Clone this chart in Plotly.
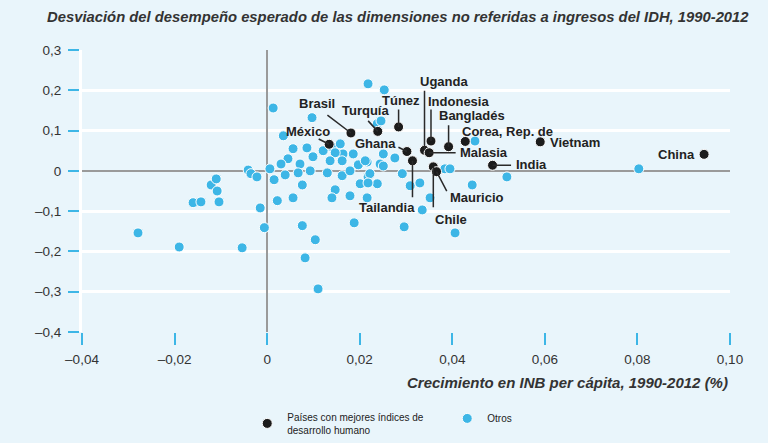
import plotly.graph_objects as go

# ---------------- data ----------------
# Highlighted countries (best HDI performers)
top_names = ["México", "Brasil", "Turquía", "Túnez", "Ghana", "Tailandia", "Uganda",
             "Indonesia", "Malasia", "Bangladés", "Corea, Rep. de", "Vietnam", "India",
             "Chile", "Mauricio", "China"]
top_x = [0.0134, 0.0181, 0.0239, 0.0284, 0.0302, 0.0314, 0.0340,
         0.0354, 0.0350, 0.0392, 0.0428, 0.0590, 0.0487,
         0.0359, 0.0366, 0.0944]
top_y = [0.066, 0.094, 0.098, 0.109, 0.048, 0.025, 0.051,
         0.074, 0.045, 0.060, 0.073, 0.072, 0.014,
         0.010, -0.002, 0.041]

# Other countries
other_x = [-0.0279, -0.0190, -0.0160, -0.0143, -0.0121, -0.0110, -0.0108, -0.0104,
           -0.0054, -0.0041, -0.0035, -0.0022, -0.0015, -0.0006, 0.0013, 0.0015,
           0.0022, 0.0035, 0.0045, 0.0056, 0.0071, 0.0086, 0.0097, 0.0099,
           0.0121, 0.0140, 0.0158, 0.0164, 0.0186, 0.0162, 0.0197, 0.0216,
           0.0251, 0.0276, 0.0244, 0.0212, 0.0251, 0.0093, 0.0067, 0.0039,
           0.0130, 0.0162, 0.0179, 0.0218, 0.0238, 0.0201, 0.0076, 0.0147,
           0.0140, 0.0179, 0.0216, 0.0056, 0.0292, 0.0309, 0.0330, 0.0352,
           0.0335, 0.0188, 0.0296, 0.0076, 0.0406, 0.0104, 0.0082, 0.0110,
           0.0218, 0.0253, 0.0238, 0.0246, 0.0449, 0.0518, 0.0443, 0.0803,
           0.0384, 0.0395, 0.0222, 0.0218, 0.0030, 0.0006, 0.0147, 0.0136]
other_y = [-0.154, -0.189, -0.079, -0.077, -0.035, -0.020, -0.050, -0.077,
           -0.191, 0.002, -0.007, -0.015, -0.092, -0.141, 0.156, -0.022,
           -0.074, 0.087, 0.030, 0.055, 0.017, 0.057, 0.132, 0.035,
           0.050, 0.060, 0.067, 0.042, 0.042, 0.025, 0.015, 0.022,
           0.042, 0.032, 0.017, 0.025, 0.012, 0.000, -0.005, -0.010,
           -0.005, -0.012, 0.000, -0.015, -0.032, -0.032, -0.035, -0.047,
           -0.067, -0.062, -0.067, -0.067, -0.007, -0.037, -0.030, -0.067,
           -0.097, -0.129, -0.139, -0.136, -0.154, -0.171, -0.216, -0.293,
           0.216, 0.201, 0.117, 0.124, 0.074, -0.015, -0.035, 0.005,
           0.005, 0.005, -0.007, -0.030, 0.017, 0.005, 0.045, 0.025]

x_tickvals = [-0.04, -0.02, 0, 0.02, 0.04, 0.06, 0.08, 0.10]
x_ticktext = ["\u20130,04", "\u20130,02", "0", "0,02", "0,04", "0,06", "0,08", "0,10"]
y_tickvals = [0.3, 0.2, 0.1, 0, -0.1, -0.2, -0.3, -0.4]
y_ticktext = ["0,3", "0,2", "0,1", "0", "\u20130,1", "\u20130,2", "\u20130,3", "\u20130,4"]

title_text = "Desviación del desempeño esperado de las dimensiones no referidas a ingresos del IDH, 1990-2012"
xaxis_title = "Crecimiento en INB per cápita, 1990-2012 (%)"
legend_top = "Países con mejores índices de<br>desarrollo humano"
legend_other = "Otros"

# ---------------- label layout (pixel offsets) ----------------
# name: (text dx, text dy, xanchor, leader tail dx, leader tail dy)  dy positive = down
label_layout = {
    "Uganda":         (19, -69, "center", 0, -61),
    "Túnez":          (2, -26, "center", 0, -19),
    "Indonesia":      (28, -40, "center", 0, -33),
    "Brasil":         (-34, -29, "center", -25, -19),
    "Turquía":        (-12, -21, "center", -11, -12),
    "México":         (-21, -13, "center", -12, -6),
    "Ghana":          (-31, -8, "center", -10, -5),
    "Bangladés":      (23, -31, "center", 0, -23),
    "Corea, Rep. de": (-5, -10, "left", None, None),
    "Vietnam":        (8, 1, "left", None, None),
    "Malasia":        (29, 0, "left", 28, 0),
    "India":          (21, -1, "left", 20, 0),
    "Mauricio":       (11, 26, "left", 11, 21),
    "Chile":          (0, 53, "left", 0, 42),
    "Tailandia":      (-25, 47, "center", 0, 38),
    "China":          (-7, 0, "right", None, None),
}

BLUE = "#3db6e6"
BLACK = "#1c1c1c"
BG = "#e9f5fb"
FONT = "Liberation Sans, Arial, sans-serif"

fig = go.Figure()
fig.add_trace(go.Scatter(
    x=other_x, y=other_y, mode="markers", name=legend_other, legendrank=2,
    marker=dict(color=BLUE, size=10, line=dict(color="white", width=1)),
))
fig.add_trace(go.Scatter(
    x=top_x, y=top_y, mode="markers", name=legend_top, legendrank=1,
    marker=dict(color=BLACK, size=10, line=dict(color="white", width=1)),
))

annotations = []
for name, x, y in zip(top_names, top_x, top_y):
    dx, dy, xa, lx, ly = label_layout[name]
    if lx is not None:
        annotations.append(dict(
            x=x, y=y, xref="x", yref="y", text="", showarrow=True,
            ax=lx, ay=ly, arrowhead=0, arrowwidth=1.5, arrowcolor="#2a2a2a", standoff=0,
        ))
    annotations.append(dict(
        x=x, y=y, xref="x", yref="y", text=name, showarrow=False,
        xshift=dx, yshift=-dy, xanchor=xa, yanchor="middle",
        font=dict(family=FONT, size=13, color="#222", weight="bold"),
    ))

annotations.append(dict(
    x=1.0, y=-0.18, xref="paper", yref="paper", text=xaxis_title, showarrow=False,
    xanchor="right", yanchor="middle",
    font=dict(family=FONT, size=15, color="#333", weight="bold", style="italic"),
))

fig.update_layout(
    width=768, height=443,
    margin=dict(l=82, r=38, t=50, b=111, autoexpand=False),
    paper_bgcolor=BG, plot_bgcolor=BG,
    title=dict(text=title_text, x=0.518, xref="container", xanchor="center",
               y=0.963, yref="container", yanchor="middle",
               font=dict(family=FONT, size=14.8, color="#333", weight="bold", style="italic")),
    showlegend=True,
    legend=dict(orientation="h", x=0.255, xanchor="left", y=-0.255, yanchor="top",
                entrywidth=155, entrywidthmode="pixels", bgcolor="rgba(0,0,0,0)",
                font=dict(family=FONT, size=10, color="#222")),
    annotations=annotations,
    font=dict(family=FONT, size=12, color="#333"),
)

fig.update_xaxes(
    range=[-0.04, 0.10], tickvals=x_tickvals, ticktext=x_ticktext,
    showgrid=False, zeroline=True, zerolinecolor="#9a9a9a", zerolinewidth=2,
    ticks="outside", ticklen=12, tickwidth=2, tickcolor=BLUE, ticklabelstandoff=3,
    showline=False, tickfont=dict(family=FONT, size=13.5, color="#333"),
)
fig.update_yaxes(
    range=[-0.4, 0.3], tickvals=y_tickvals, ticktext=y_ticktext,
    showgrid=True, gridcolor="white", gridwidth=3,
    zeroline=True, zerolinecolor="#9a9a9a", zerolinewidth=2,
    ticks="outside", ticklen=11, tickwidth=2, tickcolor=BLUE, ticklabelstandoff=4,
    showline=True, linecolor="white", linewidth=3,
    tickfont=dict(family=FONT, size=13.5, color="#333"),
)

fig.write_html(
    "out.html",
    config={"displayModeBar": False},
    post_script="document.body.style.margin='0';document.body.style.background='%s';"
                "document.documentElement.style.overflow='hidden';" % BG,
)
